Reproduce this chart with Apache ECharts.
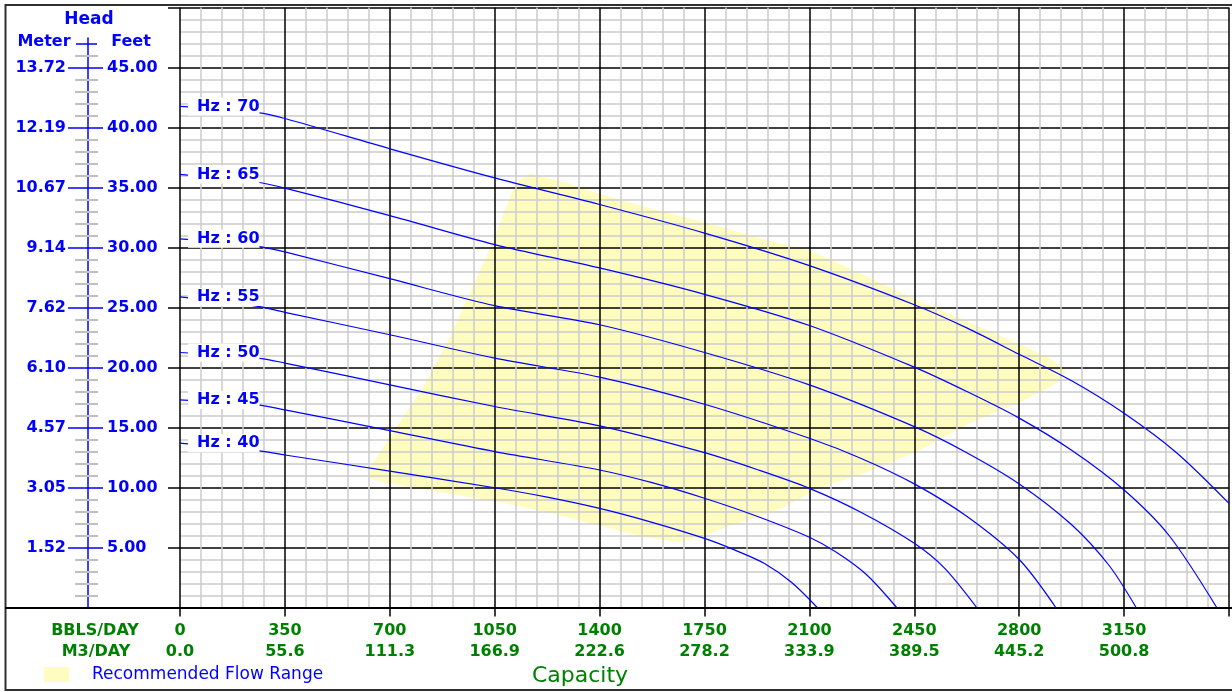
<!DOCTYPE html>
<html>
<head>
<meta charset="utf-8">
<title>Pump Performance</title>
<script src="https://cdn.jsdelivr.net/npm/echarts@6/dist/echarts.min.js"></script>
<style>
  html, body { margin: 0; padding: 0; background: #fff; }
  #chart { width: 1232px; height: 692px; }
</style>
</head>
<body>
<div id="chart"></div>
<script>
// ---- axis tick labels ----
const bblsTicks  = ['0', '350', '700', '1050', '1400', '1750', '2100', '2450', '2800', '3150'];
const m3Ticks    = ['0.0', '55.6', '111.3', '166.9', '222.6', '278.2', '333.9', '389.5', '445.2', '500.8'];
const feetTicks  = ['5.00', '10.00', '15.00', '20.00', '25.00', '30.00', '35.00', '40.00', '45.00'];
const meterTicks = ['1.52', '3.05', '4.57', '6.10', '7.62', '9.14', '10.67', '12.19', '13.72'];

// ---- head curves (flow in BBLS/DAY, head in feet) ----
const flow70 = [0, 260, 350, 700, 1050, 1400, 1750, 2100, 2450, 2625, 2800, 2975, 3150, 3325, 3500];
const head70 = [41.76, 41.24, 40.75, 38.23, 35.8, 33.58, 31.2, 28.49, 25.23, 23.3, 21.1, 18.9, 16.19, 12.9, 8.68];

const flow65 = [0, 260, 350, 700, 1050, 1400, 1750, 2100, 2450, 2625, 2800, 2975, 3150, 3300, 3459];
const head65 = [36.09, 35.44, 34.95, 32.66, 30.24, 28.3, 26.1, 23.5, 20.03, 18.0, 15.78, 13.1, 9.79, 6.0, 0];

const flow60 = [0, 260, 350, 700, 1050, 1400, 1750, 2100, 2450, 2625, 2800, 2975, 3100, 3190];
const head60 = [30.72, 30.1, 29.63, 27.4, 25.15, 23.56, 21.25, 18.55, 15.07, 12.9, 10.3, 6.9, 3.5, 0];

const flow55 = [0, 260, 350, 700, 1050, 1400, 1750, 2100, 2275, 2450, 2625, 2800, 2922];
const head55 = [25.88, 25.1, 24.6, 22.73, 20.78, 19.2, 16.94, 14.1, 12.4, 10.3, 7.6, 4.0, 0];

const flow50 = [0, 260, 350, 700, 1050, 1400, 1750, 1925, 2100, 2275, 2450, 2550, 2658];
const head50 = [21.25, 20.78, 20.37, 18.55, 16.75, 15.13, 12.9, 11.5, 9.93, 7.9, 5.35, 3.3, 0];

const flow45 = [0, 260, 350, 700, 1050, 1400, 1575, 1750, 1925, 2100, 2190, 2290, 2391];
const head45 = [17.3, 16.89, 16.47, 14.74, 12.99, 11.46, 10.4, 9.1, 7.6, 5.85, 4.6, 2.75, 0];

const flow40 = [0, 260, 350, 700, 1050, 1225, 1400, 1575, 1750, 1850, 1950, 2040, 2126];
const head40 = [13.69, 13.07, 12.71, 11.37, 9.98, 9.2, 8.26, 7.1, 5.76, 4.8, 3.67, 2.1, 0];

const hzNames = ['Hz : 70', 'Hz : 65', 'Hz : 60', 'Hz : 55', 'Hz : 50', 'Hz : 45', 'Hz : 40'];
const curveFlows = [flow70, flow65, flow60, flow55, flow50, flow45, flow40];
const curveHeads = [head70, head65, head60, head55, head50, head45, head40];

// ---- recommended operating range outline ----
const rangeFlow = [637, 642, 731, 808, 897, 974, 1050, 1113, 1135, 1168, 1284, 1403, 1561, 1753, 1949, 2104,
                   2455, 2624, 2803, 2900, 2950, 2912, 2803, 2624, 2455, 2292, 2126, 2004, 1838, 1727, 1661,
                   1561, 1395, 1229, 1063, 864, 698];
const rangeHead = [10.9, 11.7, 15.1, 17.9, 22.0, 26.2, 30.4, 34.5, 35.4, 36.0, 35.25, 34.27, 33.16, 31.9, 30.5, 29.55,
                   25.5, 23.7, 21.75, 20.6, 19.6, 18.7, 17.3, 15.4, 13.13, 11.46, 10.07, 8.4, 7.0, 6.0, 5.62,
                   6.0, 7.0, 8.1, 8.96, 9.8, 10.5];

// ---- layout / style ----
const BLUE = '#0000ff';
const GREEN = '#008000';
const RANGE_COLOR = '#fffcc0';
const GRID_GRAY = '#cccccc';
const FONT = 'DejaVu Sans';

const FLOW_MAX = 3500, FLOW_STEP = 350;
const HEAD_MAX = 50, HEAD_STEP = 5;
const PLOT = { left: 180, top: 7.5, width: 1054, height: 600 };
const SCALE_TOP = 38;                       // top of the blue head scale
const scaleMax = HEAD_MAX * (PLOT.top + PLOT.height - SCALE_TOP) / PLOT.height;

const majorFeet = feetTicks.map(t => parseFloat(t));
const minorFeet = [];
for (let f = 1; f <= 46; f++) if (f % HEAD_STEP !== 0) minorFeet.push(f);

const boldBlue = { color: BLUE, fontFamily: FONT, fontWeight: 'bold', fontSize: 16 };

function scaleAxis(extra) {
  return Object.assign({
    type: 'value', gridIndex: 1, position: 'left', min: 0, max: scaleMax,
    axisLine: { show: false }, axisLabel: { show: false }, splitLine: { show: false }
  }, extra);
}

const curveSeries = curveFlows.map((flows, c) => ({
  type: 'line',
  name: hzNames[c],
  smooth: 0.3,
  symbol: 'circle',
  symbolSize: 0,
  showSymbol: true,
  silent: true,
  z: 3,
  lineStyle: { color: BLUE, width: 1.2 },
  itemStyle: { color: BLUE },
  emphasis: { disabled: true },
  data: flows.map((q, i) => {
    const item = { value: [q, curveHeads[c][i]] };
    if (i === 0) {
      item.label = {
        show: true, position: 'right', distance: 8, formatter: hzNames[c],
        backgroundColor: '#ffffff', padding: [1, 0, 0, 9], lineHeight: 17,
        color: BLUE, fontFamily: FONT, fontWeight: 'bold', fontSize: 16
      };
    }
    return item;
  })
}));

const option = {
  animation: false,
  backgroundColor: '#ffffff',
  textStyle: { fontFamily: FONT },
  grid: [
    { left: PLOT.left, top: PLOT.top, width: PLOT.width, height: PLOT.height },
    { left: 88, top: SCALE_TOP, width: 10, height: PLOT.top + PLOT.height - SCALE_TOP },
    { left: 6, top: PLOT.top, width: 1240, height: PLOT.height }
  ],
  legend: {
    left: 39, top: 661, selectedMode: false,
    icon: 'rect', itemWidth: 25, itemHeight: 15,
    data: ['Recommended Flow Range'],
    textStyle: { color: BLUE, fontFamily: FONT, fontSize: 17, padding: [0, 0, 0, 18] }
  },
  xAxis: [
    {
      type: 'value', gridIndex: 0, min: 0, max: FLOW_MAX, interval: FLOW_STEP,
      axisLine: { show: true, onZero: false, lineStyle: { color: '#000', width: 2 } },
      axisTick: { show: true, length: 9, lineStyle: { color: '#000', width: 1.5 } },
      axisLabel: {
        margin: 13, color: GREEN, fontFamily: FONT, fontWeight: 'bold', fontSize: 16, lineHeight: 21,
        formatter: v => {
          const i = Math.round(v / FLOW_STEP);
          return i < bblsTicks.length ? bblsTicks[i] + '\n' + m3Ticks[i] : '';
        }
      },
      splitLine: { show: true, lineStyle: { color: '#000', width: 1.5 } },
      minorTick: { show: false, splitNumber: 5 },
      minorSplitLine: { show: true, lineStyle: { color: GRID_GRAY, width: 1.5 } }
    },
    { type: 'value', gridIndex: 1, min: 0, max: 1, show: false },
    {
      type: 'value', gridIndex: 2, min: 0, max: 1,
      axisLine: { show: true, onZero: false, lineStyle: { color: '#000', width: 2 } },
      axisTick: { show: false }, axisLabel: { show: false }, splitLine: { show: false }
    }
  ],
  yAxis: [
    {
      type: 'value', gridIndex: 0, min: 0, max: HEAD_MAX, interval: HEAD_STEP,
      axisLine: { show: false },
      axisTick: { show: true, length: 12, lineStyle: { color: '#000', width: 1.5 } },
      axisLabel: { show: false },
      splitLine: { show: true, lineStyle: { color: '#000', width: 1.5 } },
      minorTick: { show: false, splitNumber: 5 },
      minorSplitLine: { show: true, lineStyle: { color: GRID_GRAY, width: 1.5 } }
    },
    // head scale: minor foot ticks either side of the line
    scaleAxis({ axisTick: { show: true, length: 13, customValues: minorFeet, lineStyle: { color: '#c0c0c0', width: 2 } } }),
    scaleAxis({ axisTick: { show: true, inside: true, length: 10, customValues: minorFeet, lineStyle: { color: '#c0c0c0', width: 2 } } }),
    // head scale: metres on the left
    scaleAxis({
      axisTick: { show: true, length: 20, customValues: majorFeet, lineStyle: { color: BLUE, width: 1.5 } },
      axisLabel: Object.assign({ show: true, margin: 22, customValues: majorFeet,
        formatter: v => meterTicks[majorFeet.indexOf(v)] || '' }, boldBlue)
    }),
    // head scale: feet on the right
    scaleAxis({
      axisTick: { show: true, inside: true, length: 15, customValues: majorFeet, lineStyle: { color: BLUE, width: 1.5 } },
      axisLabel: Object.assign({ show: true, inside: true, margin: 19, customValues: majorFeet,
        formatter: v => feetTicks[majorFeet.indexOf(v)] || '' }, boldBlue)
    }),
    // unit row tick at the top of the scale
    scaleAxis({ axisTick: { show: true, length: 12, customValues: [47], lineStyle: { color: BLUE, width: 1.5 } } }),
    scaleAxis({ axisTick: { show: true, inside: true, length: 9, customValues: [47], lineStyle: { color: BLUE, width: 1.5 } } }),
    // the scale line itself
    scaleAxis({ axisLine: { show: true, onZero: false, lineStyle: { color: BLUE, width: 1.5 } }, axisTick: { show: false } }),
    { type: 'value', gridIndex: 2, min: 0, max: 1, show: false }
  ],
  graphic: [
    { type: 'rect', silent: true, shape: { x: 5.5, y: 5, width: 1240, height: 685 },
      style: { fill: null, stroke: '#303030', lineWidth: 2 } },
    { type: 'text', silent: true, x: 89, y: 20,
      style: { text: 'Head', fill: BLUE, font: 'bold 17px "DejaVu Sans"', align: 'center', verticalAlign: 'middle' } },
    { type: 'text', silent: true, x: 44, y: 42,
      style: { text: 'Meter', fill: BLUE, font: 'bold 16px "DejaVu Sans"', align: 'center', verticalAlign: 'middle' } },
    { type: 'text', silent: true, x: 131, y: 42,
      style: { text: 'Feet', fill: BLUE, font: 'bold 16px "DejaVu Sans"', align: 'center', verticalAlign: 'middle' } },
    { type: 'text', silent: true, x: 95, y: 631,
      style: { text: 'BBLS/DAY', fill: GREEN, font: 'bold 16px "DejaVu Sans"', align: 'center', verticalAlign: 'middle' } },
    { type: 'text', silent: true, x: 96, y: 652,
      style: { text: 'M3/DAY', fill: GREEN, font: 'bold 16px "DejaVu Sans"', align: 'center', verticalAlign: 'middle' } },
    { type: 'text', silent: true, x: 580, y: 676,
      style: { text: 'Capacity', fill: GREEN, font: '22px "DejaVu Sans"', align: 'center', verticalAlign: 'middle' } }
  ],
  series: [
    {
      type: 'custom',
      name: 'Recommended Flow Range',
      xAxisIndex: 0, yAxisIndex: 0,
      z: -1,
      silent: true,
      itemStyle: { color: RANGE_COLOR },
      data: [[rangeFlow[0], rangeHead[0]]],
      encode: { x: 0, y: 1 },
      renderItem: (params, api) => {
        const pts = rangeFlow.map((q, i) => api.coord([q, rangeHead[i]]));
        return {
          type: 'polygon',
          shape: { points: pts },
          style: { fill: RANGE_COLOR, stroke: RANGE_COLOR, lineWidth: 4, lineJoin: 'round' }
        };
      }
    }
  ].concat(curveSeries)
};

const chart = echarts.init(document.getElementById('chart'), null, { renderer: 'canvas' });
chart.setOption(option);
</script>
</body>
</html>
